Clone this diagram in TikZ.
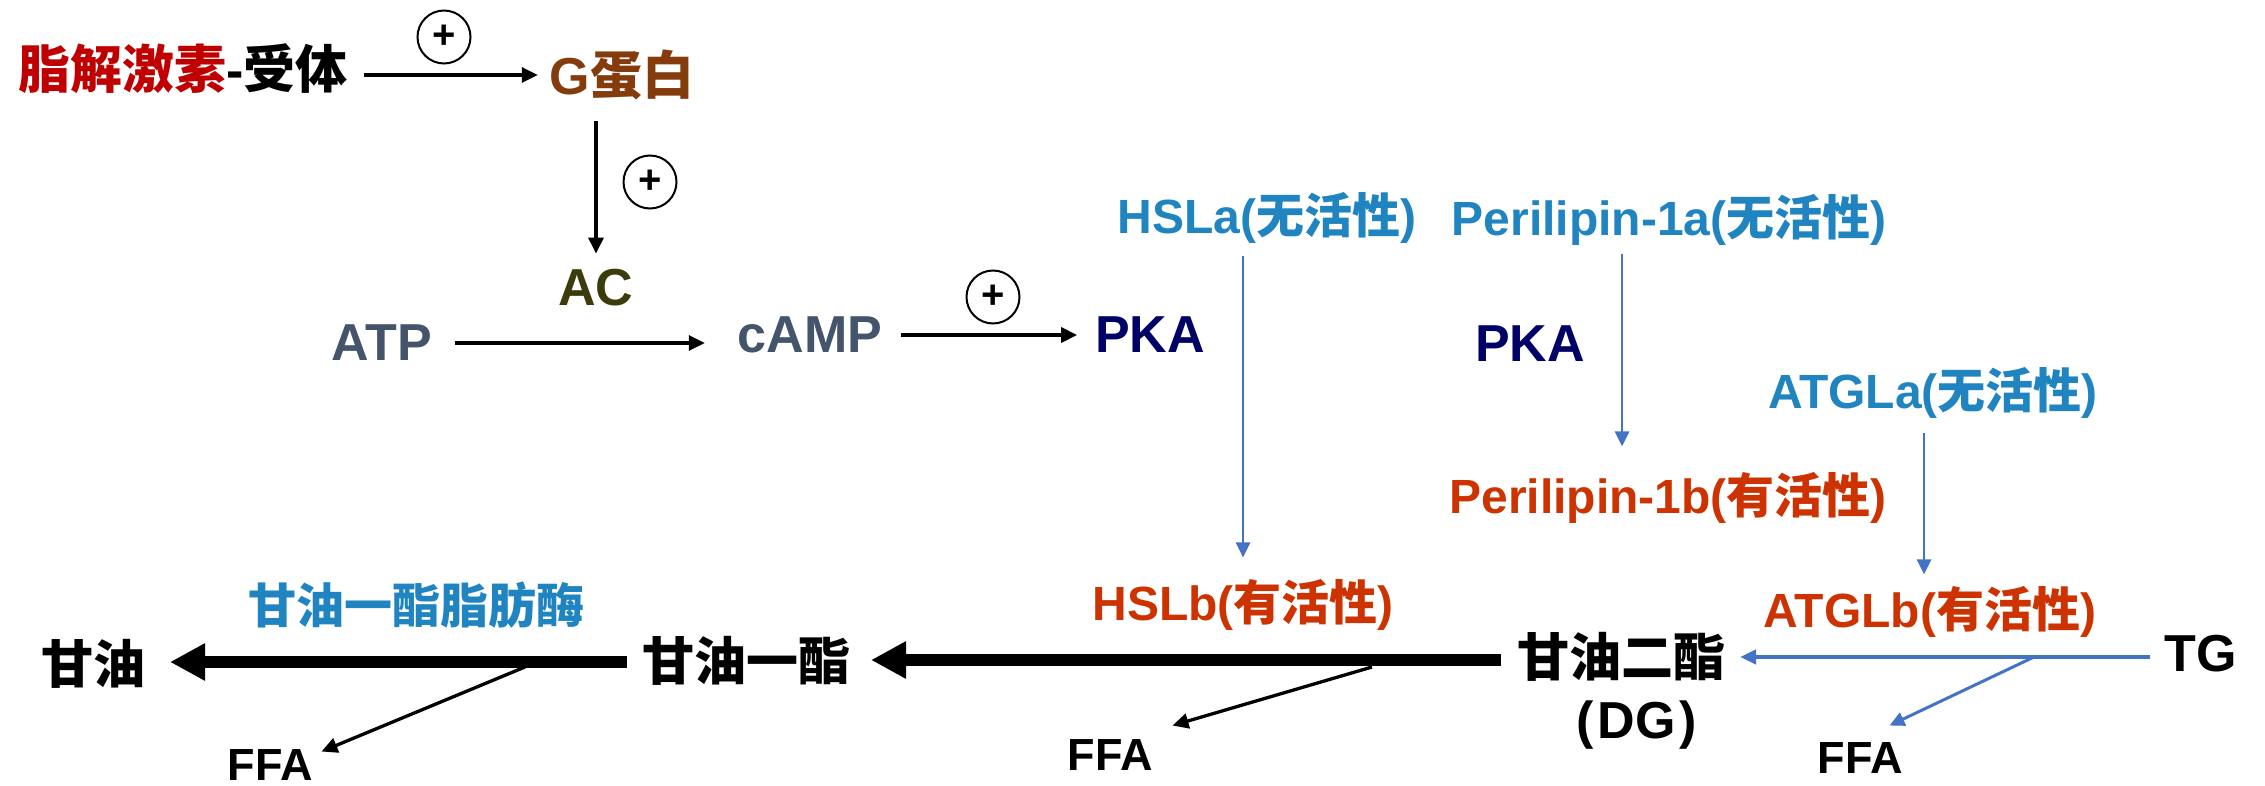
\documentclass[tikz,border=0pt]{standalone}
\usepackage{fontspec}
\setmainfont{Liberation Sans}
\newfontfamily\cjk{Noto Sans CJK SC}
\usetikzlibrary{arrows.meta}
\definecolor{dred}{HTML}{C00000}
\definecolor{brownc}{HTML}{843C0C}
\definecolor{olivec}{HTML}{3B3B0B}
\definecolor{slatec}{HTML}{44546A}
\definecolor{navyc}{HTML}{000066}
\definecolor{labblue}{HTML}{1F84C0}
\definecolor{labred}{HTML}{CC3300}
\definecolor{lineblue}{HTML}{4472C4}
\newcommand{\zh}[1]{{\cjk #1}}
\begin{document}
\begin{tikzpicture}[x=1pt,y=-1pt,
  every node/.style={inner sep=0pt,outer sep=0pt},
  big/.style={font=\fontsize{52}{60}\selectfont\bfseries},
  lab/.style={font=\fontsize{48}{56}\selectfont\bfseries},
  ffa/.style={font=\fontsize{45}{52}\selectfont\bfseries},
  plus/.style={circle,draw,line width=2pt,minimum size=53pt,font=\fontsize{40}{40}\selectfont\bfseries},
  thinarr/.style={line width=3.3pt,-{Triangle[length=16pt,width=15pt]}},
  bluearr/.style={draw=lineblue,line width=2.7pt,-{Triangle[length=15pt,width=14pt]}},
  bluethick/.style={draw=lineblue,line width=4pt,-{Triangle[length=16pt,width=14pt]}},
  thickarr/.style={line width=12.7pt,-{Triangle[length=35pt,width=35pt]}}
]
\useasboundingbox (0,0) rectangle (2265,786);

% top chain
\node[big] (n1) at (183,69) {\textcolor{dred}{\zh{脂解激素}}-\zh{受体}};
\node[big,text=brownc] (g) at (622,75) {G\zh{蛋白}};
\node[big,text=olivec] (ac) at (596,288) {AC};
\node[big,text=slatec] (atp) at (382,343) {ATP};
\node[big,text=slatec] (camp) at (810,335) {cAMP};
\node[big,text=navyc] (pka1) at (1150,335) {PKA};
\node[plus] (p1) at (444,37) {+};
\node[plus] (p2) at (650,182) {+};
\node[plus] (p3) at (993,297) {+};

\draw[thinarr,shorten <=16pt,shorten >=12pt] (n1.east |- g.west) -- (g.west);
\draw[thinarr,shorten <=21pt,shorten >=16pt] (g.south -| ac.north) -- (ac.north);
\draw[thinarr,shorten <=23pt,shorten >=33pt] (atp.east) -- (atp.east -| camp.west);
\draw[thinarr,shorten <=19pt,shorten >=18pt] (camp.east) -- (pka1.west);

% right enzymes
\node[lab,text=labblue] (hsla) at (1267,218) {HSLa(\zh{无活性})};
\node[lab,text=labblue] (peria) at (1669,220) {Perilipin-1a(\zh{无活性})};
\node[big,text=navyc] (pka2) at (1530,344) {PKA};
\node[lab,text=labblue] (atgla) at (1933,393) {ATGLa(\zh{无活性})};
\node[lab,text=labred] (perib) at (1668,498) {Perilipin-1b(\zh{有活性})};
\node[lab,text=labred] (hslb) at (1243,605) {HSLb(\zh{有活性})};
\node[lab,text=labred] (atglb) at (1930,612) {ATGLb(\zh{有活性})};

\draw[bluearr,shorten <=12pt,shorten >=22pt] (hsla.south -| hslb.north) -- (hslb.north);
\draw[bluearr,shorten <=8pt,shorten >=26pt] ([xshift=-47pt]peria.south) -- ([xshift=-46pt]perib.north);
\draw[bluearr,shorten <=14pt,shorten >=12pt] ([xshift=-9pt]atgla.south) -- ([xshift=-6pt]atglb.north);

% bottom chain
\node[big] (gly) at (93,664) {\zh{甘油}};
\node[big] (mg) at (746,661) {\zh{甘油一酯}};
\node[big] (dg) at (1621,657) {\zh{甘油二酯}};
\node[big] (dgl) at (1637,725) {(\kern4pt DG\kern4pt)};
\node[big] (tg) at (2201,654) {TG};
\node[lab,text=labblue] (mgl) at (416,605) {\zh{甘油一酯脂肪酶}};
\node[ffa] (ffa1) at (270,765) {FFA};
\node[ffa] (ffa2) at (1110,755) {FFA};
\node[ffa] (ffa3) at (1860,758) {FFA};

\draw[bluethick,shorten <=15pt,shorten >=15pt] (tg.west |- dg.east) -- (dg.east);
\draw[thickarr,shorten <=16pt,shorten >=21pt] (dg.west |- 0,660) -- (mg.east |- 0,660);
\draw[thickarr,shorten <=15pt,shorten >=25pt] (mg.west |- 0,662) -- (gly.east |- 0,662);

\coordinate (b1) at (525,667);
\coordinate (b2) at (1372,667);
\coordinate (b3) at (2034,657);
\draw[thinarr] (b1) -- ([shift={(9,2)}]ffa1.north east);
\draw[thinarr] (b2) -- ([shift={(20,-14)}]ffa2.north east);
\draw[bluearr,line width=3pt] (b3) -- ([shift={(-13,-17)}]ffa3.north east);
\end{tikzpicture}
\end{document}
